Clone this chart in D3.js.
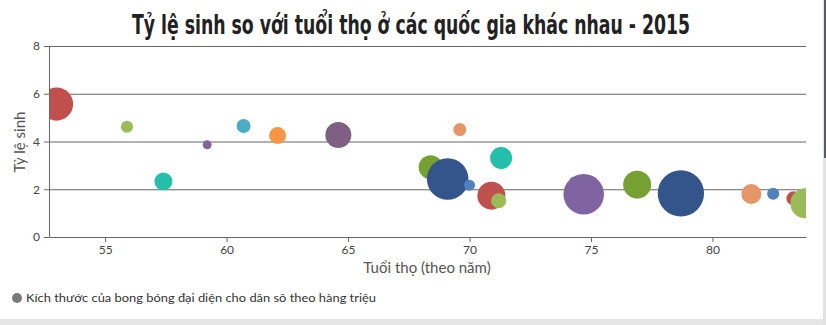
<!DOCTYPE html>
<html>
<head>
<meta charset="utf-8">
<script src="https://cdn.jsdelivr.net/npm/d3@7"></script>
<style>
  body { margin: 0; background: #fff; }
  svg text { font-family: Lato, "Open Sans", sans-serif; }
</style>
</head>
<body>
<script>
// life expectancy (x), fertility rate (y), population in millions (z)
var lifeExp   = [53.0, 55.9, 57.4, 59.2, 60.7, 62.1, 64.6, 68.4, 69.1, 69.6, 70.0,
                 70.9, 71.2, 71.3, 74.3, 74.7, 76.9, 78.7, 81.6, 82.5, 83.33, 83.82];
var fertility = [5.57, 4.62, 2.33, 3.86, 4.65, 4.25, 4.27, 2.92, 2.43, 4.50, 2.17,
                 1.73, 1.52, 3.31, 2.30, 1.79, 2.19, 1.83, 1.80, 1.81, 1.62, 1.41];
var population = [165, 22, 48, 12, 29, 43, 101, 86, 258, 25, 18,
                  117, 34, 72, 15, 246, 117, 321, 60, 22, 29, 134];
var pointColors = ["#C0504E", "#9BBB58", "#23BFAA", "#8064A1", "#4AACC5", "#F79647",
                   "#7F6084", "#77A033", "#33558B", "#E59566", "#4F81BC",
                   "#C0504E", "#9BBB58", "#23BFAA", "#4AACC5", "#8064A1", "#77A033",
                   "#33558B", "#E59566", "#4F81BC", "#C0504E", "#9BBB58"];
var xTicks = [55, 60, 65, 70, 75, 80];
var yTicks = [0, 2, 4, 6, 8];

var titleText = "Tỷ lệ sinh so với tuổi thọ ở các quốc gia khác nhau - 2015";
var xTitle = "Tuổi thọ (theo năm)";
var yTitle = "Tỷ lệ sinh";
var legendText = "Kích thước của bong bóng đại diện cho dân sô theo hàng triệu";

var W = 826, H = 325;
var margin = {top: 46, right: 20, bottom: 88, left: 49};
var width = W - margin.left - margin.right,
    height = H - margin.top - margin.bottom;

var svg = d3.select("body").append("svg")
    .attr("width", W).attr("height", H);

// page frame bits (scrollbar + bottom shadow)
svg.append("rect").attr("x", 0).attr("y", 319).attr("width", W).attr("height", 6).attr("fill", "#e6e6e6");
svg.append("rect").attr("x", 823).attr("y", 0).attr("width", 3).attr("height", H).attr("fill", "#e2e2e2");
svg.append("rect").attr("x", 824).attr("y", 0).attr("width", 2).attr("height", 158).attr("fill", "#5a5a66");

// title
svg.append("text")
    .attr("x", 411).attr("y", 34)
    .attr("text-anchor", "middle")
    .attr("textLength", 558).attr("lengthAdjust", "spacingAndGlyphs")
    .style("font-family", "'Liberation Sans Narrow', 'DejaVu Sans Condensed', sans-serif")
    .style("font-weight", "bold")
    .style("font-size", "26px")
    .attr("fill", "#222")
    .text(titleText);

var x = d3.scaleLinear().domain([52.69, 83.85]).range([0, width]);
var y = d3.scaleLinear().domain([0, 8]).range([height, 0]);
var r = d3.scaleSqrt().domain([0, 330]).range([0, 23.5]);

var g = svg.append("g")
    .attr("transform", "translate(" + margin.left + "," + margin.top + ")");

// gridlines
g.selectAll(".grid")
    .data(yTicks.filter(function(d) { return d > 0; }))
    .enter().append("line")
    .attr("x1", 0).attr("x2", width)
    .attr("y1", function(d) { return y(d) + 0.5; })
    .attr("y2", function(d) { return y(d) + 0.5; })
    .attr("stroke", "#666").attr("stroke-width", 1);

// bubbles
g.append("clipPath").attr("id", "clip")
    .append("rect").attr("width", width).attr("height", height);

var points = lifeExp.map(function(d, i) {
    return {x: d, y: fertility[i], z: population[i], c: pointColors[i]};
});

g.append("g").attr("clip-path", "url(#clip)")
    .selectAll("circle")
    .data(points)
    .enter().append("circle")
    .attr("cx", function(d) { return x(d.x); })
    .attr("cy", function(d) { return y(d.y); })
    .attr("r", function(d) { return r(d.z); })
    .attr("fill", function(d) { return d.c; });

// x axis
var xAxis = g.append("g")
    .attr("transform", "translate(0," + height + ")")
    .call(d3.axisBottom(x).tickValues(xTicks).tickSize(5).tickSizeOuter(0));
xAxis.select(".domain").attr("stroke", "#666");
xAxis.selectAll(".tick line").attr("stroke", "#666");
xAxis.selectAll(".tick text")
    .attr("fill", "#444").attr("y", 8)
    .style("font-size", "12px");

// y axis
var yAxis = g.append("g")
    .call(d3.axisLeft(y).tickValues(yTicks).tickSize(5).tickSizeOuter(0));
yAxis.select(".domain").attr("stroke", "#666");
yAxis.selectAll(".tick line").attr("stroke", "#666");
yAxis.selectAll(".tick text")
    .attr("fill", "#444").attr("x", -9)
    .style("font-size", "12px");

// axis titles
svg.append("text")
    .attr("x", 427).attr("y", 273)
    .attr("text-anchor", "middle")
    .attr("fill", "#555")
    .style("font-size", "15px")
    .text(xTitle);

svg.append("text")
    .attr("transform", "translate(25,142) rotate(-90)")
    .attr("text-anchor", "middle")
    .attr("fill", "#555")
    .style("font-size", "15px")
    .text(yTitle);

// legend
svg.append("circle")
    .attr("cx", 17).attr("cy", 298).attr("r", 5)
    .attr("fill", "#7a7a7a");
svg.append("text")
    .attr("x", 26).attr("y", 302)
    .attr("fill", "#333")
    .style("font-size", "12px")
    .attr("textLength", 350).attr("lengthAdjust", "spacingAndGlyphs")
    .text(legendText);
</script>
</body>
</html>
